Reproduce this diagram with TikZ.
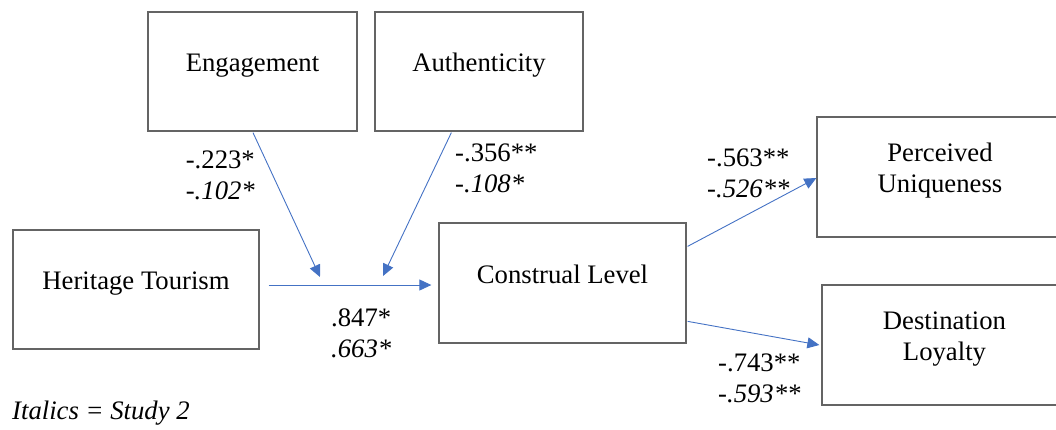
\documentclass[tikz,border=0pt]{standalone}
\usepackage{fontspec}
\setmainfont{Liberation Serif}
\usetikzlibrary{arrows.meta,calc}
\definecolor{linkblue}{RGB}{68,114,196}
\definecolor{boxgray}{RGB}{100,100,100}
\begin{document}
\begin{tikzpicture}[x=1bp,y=-1bp,
  every node/.style={font=\fontsize{26.7bp}{31bp}\selectfont},
  varbox/.style={draw=boxgray,line width=1.3bp,inner sep=0pt,align=center,
    text height=18bp,text depth=18bp},
  twoline/.style={varbox,text height=49bp,text depth=18bp},
  coef/.style={inner sep=0pt},
  link/.style={draw=linkblue,line width=0.9bp,-{Triangle[length=12bp,width=11bp]}}]
\useasboundingbox (0,0) rectangle (1056,429);
\clip (0,0) rectangle (1056,429);
\node[varbox,minimum width=209bp,minimum height=119bp] (EN) at (252.5,71.5) {Engagement};
\node[varbox,minimum width=208bp,minimum height=119bp] (AU) at (479,71.5) {Authenticity};
\node[varbox,minimum width=246bp,minimum height=119bp] (HT) at (136,289.5) {Heritage Tourism};
\node[varbox,minimum width=247bp,minimum height=120bp] (CL) at (562.5,283) {Construal Level};
\node[twoline,minimum width=246bp,minimum height=120bp] (PU) at (940,177) {Perceived\\Uniqueness};
\node[twoline,minimum width=245bp,minimum height=120bp] (DL) at (944.5,345) {Destination\\Loyalty};
\coordinate (m1) at (320,277);
\coordinate (m2) at (383,276);
\draw[link] ($(HT.east)+(9,-4.5)$) -- ($(CL.west)+(-7,2)$);
\draw[link] ($(EN.south)+(0.5,1)$) -- (m1);
\draw[link] ($(AU.south west)+(77,1)$) -- (m2);
\draw[link] ($(CL.north east)+(1,24)$) -- ($(PU.west)+(0,1)$);
\draw[link] ($(CL.north east)+(1,99)$) -- ($(DL.west)+(-2,0)$);
\node[coef,align=right,anchor=east] (c1) at (255,175) {-.223*\\\textit{-.102*}};
\node[coef,align=left,anchor=west] (c2) at (455,168) {-.356**\\\textit{-.108*}};
\node[coef,align=left,anchor=west] (c3) at (331,333) {.847*\\\textit{.663*}};
\node[coef,align=left,anchor=west] (c4) at (707,173) {-.563**\\\textit{-.526**}};
\node[coef,align=left,anchor=west] (c5) at (718,378) {-.743**\\\textit{-.593**}};
\node[coef,anchor=base west] (note) at (12,419) {\textit{Italics = Study 2}};
\end{tikzpicture}
\end{document}
